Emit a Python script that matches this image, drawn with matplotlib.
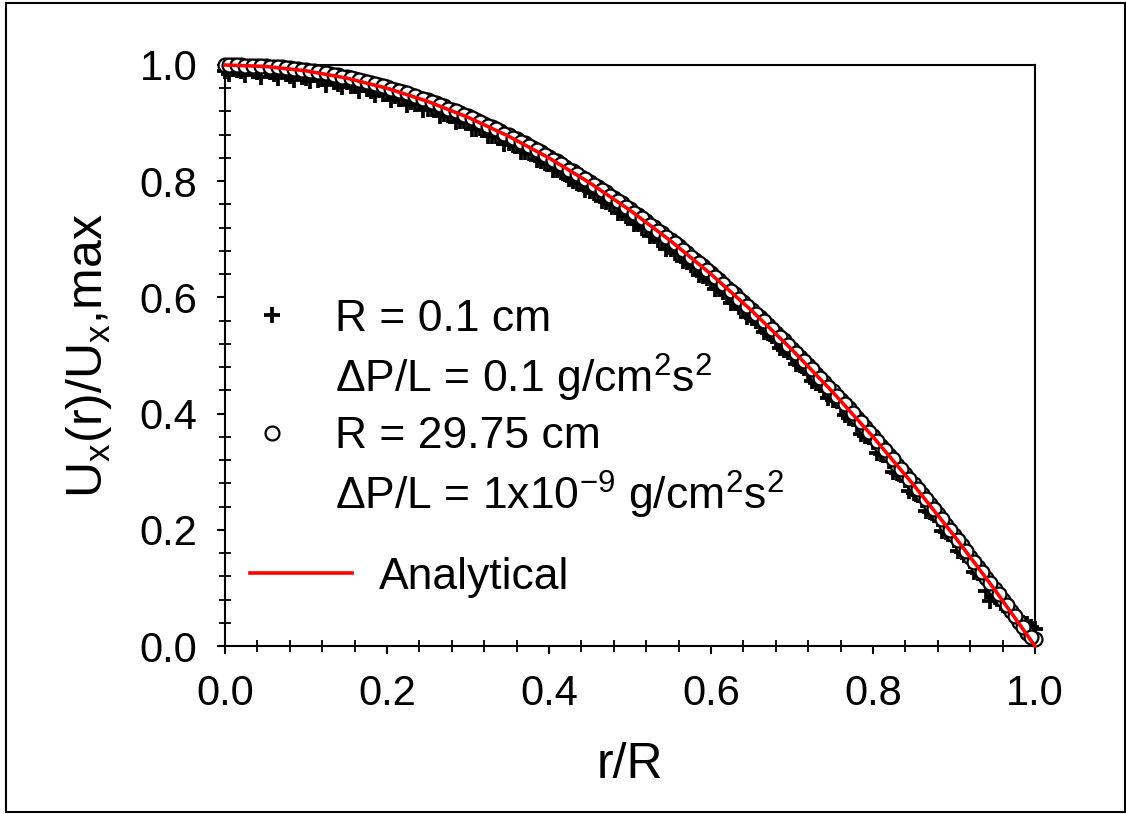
import matplotlib
matplotlib.use("Agg")
import matplotlib.pyplot as plt
from matplotlib.lines import Line2D
from matplotlib.patches import Rectangle
from matplotlib.ticker import MultipleLocator, FormatStrFormatter

plt.rcParams['font.family'] = ['Liberation Sans', 'DejaVu Sans']
plt.rcParams['mathtext.fontset'] = 'custom'
plt.rcParams['mathtext.rm'] = 'Liberation Sans'
plt.rcParams['mathtext.it'] = 'Liberation Sans'
plt.rcParams['mathtext.default'] = 'regular'

# ---- data ----
r_data = [0.00, 0.01, 0.02, 0.03, 0.04, 0.05, 0.06, 0.07, 0.08, 0.09,
          0.10, 0.11, 0.12, 0.13, 0.14, 0.15, 0.16, 0.17, 0.18, 0.19,
          0.20, 0.21, 0.22, 0.23, 0.24, 0.25, 0.26, 0.27, 0.28, 0.29,
          0.30, 0.31, 0.32, 0.33, 0.34, 0.35, 0.36, 0.37, 0.38, 0.39,
          0.40, 0.41, 0.42, 0.43, 0.44, 0.45, 0.46, 0.47, 0.48, 0.49,
          0.50, 0.51, 0.52, 0.53, 0.54, 0.55, 0.56, 0.57, 0.58, 0.59,
          0.60, 0.61, 0.62, 0.63, 0.64, 0.65, 0.66, 0.67, 0.68, 0.69,
          0.70, 0.71, 0.72, 0.73, 0.74, 0.75, 0.76, 0.77, 0.78, 0.79,
          0.80, 0.81, 0.82, 0.83, 0.84, 0.85, 0.86, 0.87, 0.88, 0.89,
          0.90, 0.91, 0.92, 0.93, 0.94, 0.95, 0.96, 0.97, 0.98, 0.99,
          1.00]

r_data_half = [0.005, 0.015, 0.025, 0.035, 0.045, 0.055, 0.065, 0.075, 0.085, 0.095,
               0.105, 0.115, 0.125, 0.135, 0.145, 0.155, 0.165, 0.175, 0.185, 0.195,
               0.205, 0.215, 0.225, 0.235, 0.245, 0.255, 0.265, 0.275, 0.285, 0.295,
               0.305, 0.315, 0.325, 0.335, 0.345, 0.355, 0.365, 0.375, 0.385, 0.395,
               0.405, 0.415, 0.425, 0.435, 0.445, 0.455, 0.465, 0.475, 0.485, 0.495,
               0.505, 0.515, 0.525, 0.535, 0.545, 0.555, 0.565, 0.575, 0.585, 0.595,
               0.605, 0.615, 0.625, 0.635, 0.645, 0.655, 0.665, 0.675, 0.685, 0.695,
               0.705, 0.715, 0.725, 0.735, 0.745, 0.755, 0.765, 0.775, 0.785, 0.795,
               0.805, 0.815, 0.825, 0.835, 0.845, 0.855, 0.865, 0.875, 0.885, 0.895,
               0.905, 0.915, 0.925, 0.935, 0.945, 0.955, 0.965, 0.975, 0.985, 0.995]

# R = 0.1 cm (plus markers)
u_small_R = [0.990, 0.993, 0.990, 0.994, 0.988, 0.992, 0.985, 0.990, 0.981, 0.986,
             0.978, 0.983, 0.976, 0.978, 0.968, 0.970, 0.963, 0.965, 0.956, 0.957,
             0.950, 0.947, 0.944, 0.936, 0.934, 0.925, 0.924, 0.915, 0.913, 0.904,
             0.901, 0.890, 0.888, 0.878, 0.874, 0.866, 0.860, 0.850, 0.846, 0.835,
             0.830, 0.819, 0.813, 0.801, 0.797, 0.783, 0.778, 0.765, 0.759, 0.746,
             0.740, 0.726, 0.719, 0.705, 0.698, 0.683, 0.676, 0.661, 0.653, 0.637,
             0.630, 0.614, 0.605, 0.590, 0.580, 0.564, 0.555, 0.538, 0.527, 0.510,
             0.500, 0.483, 0.471, 0.453, 0.443, 0.424, 0.413, 0.393, 0.382, 0.362,
             0.351, 0.330, 0.319, 0.298, 0.286, 0.264, 0.252, 0.231, 0.218, 0.196,
             0.183, 0.161, 0.147, 0.126, 0.095, 0.085, 0.070, 0.058, 0.045, 0.038,
             0.030]
u_small_R_half = [0.985, 0.992, 0.983, 0.990, 0.980, 0.988, 0.978, 0.984, 0.975, 0.980,
                  0.972, 0.975, 0.966, 0.971, 0.962, 0.964, 0.955, 0.958, 0.948, 0.950,
                  0.940, 0.942, 0.932, 0.933, 0.922, 0.925, 0.912, 0.914, 0.902, 0.903,
                  0.890, 0.891, 0.877, 0.878, 0.864, 0.863, 0.851, 0.848, 0.836, 0.832,
                  0.820, 0.815, 0.803, 0.797, 0.785, 0.779, 0.766, 0.760, 0.746, 0.740,
                  0.726, 0.720, 0.705, 0.699, 0.684, 0.677, 0.662, 0.655, 0.639, 0.633,
                  0.615, 0.609, 0.591, 0.584, 0.566, 0.559, 0.540, 0.533, 0.513, 0.506,
                  0.485, 0.479, 0.456, 0.450, 0.427, 0.421, 0.397, 0.391, 0.365, 0.360,
                  0.333, 0.328, 0.300, 0.294, 0.267, 0.260, 0.233, 0.226, 0.198, 0.192,
                  0.163, 0.158, 0.128, 0.122, 0.078, 0.082, 0.064, 0.052, 0.040, 0.032]

# R = 29.75 cm (circle markers)
u_large_R = [1.000, 1.000, 1.000, 0.999, 0.999, 0.998, 0.997, 0.996, 0.995, 0.993,
             0.991, 0.989, 0.987, 0.984, 0.982, 0.979, 0.976, 0.972, 0.969, 0.965,
             0.962, 0.957, 0.953, 0.949, 0.944, 0.939, 0.934, 0.929, 0.923, 0.918,
             0.912, 0.906, 0.899, 0.893, 0.886, 0.879, 0.872, 0.865, 0.857, 0.850,
             0.842, 0.834, 0.825, 0.817, 0.808, 0.799, 0.790, 0.781, 0.771, 0.762,
             0.752, 0.742, 0.731, 0.721, 0.710, 0.699, 0.688, 0.677, 0.665, 0.654,
             0.642, 0.630, 0.617, 0.605, 0.592, 0.579, 0.566, 0.553, 0.539, 0.526,
             0.512, 0.498, 0.483, 0.469, 0.454, 0.439, 0.424, 0.409, 0.393, 0.377,
             0.361, 0.345, 0.329, 0.312, 0.296, 0.279, 0.261, 0.244, 0.227, 0.209,
             0.191, 0.173, 0.154, 0.136, 0.117, 0.098, 0.079, 0.060, 0.041, 0.022,
             0.012]
u_large_R_half = [1.000, 1.000, 0.999, 0.999, 0.998, 0.997, 0.996, 0.995, 0.993, 0.992,
                  0.990, 0.988, 0.986, 0.983, 0.980, 0.977, 0.974, 0.971, 0.967, 0.963,
                  0.959, 0.955, 0.951, 0.946, 0.941, 0.936, 0.931, 0.925, 0.920, 0.914,
                  0.908, 0.902, 0.895, 0.889, 0.882, 0.875, 0.868, 0.860, 0.853, 0.845,
                  0.837, 0.829, 0.820, 0.812, 0.803, 0.794, 0.785, 0.775, 0.766, 0.756,
                  0.746, 0.736, 0.725, 0.715, 0.704, 0.693, 0.682, 0.670, 0.659, 0.647,
                  0.635, 0.623, 0.611, 0.598, 0.585, 0.572, 0.559, 0.546, 0.532, 0.518,
                  0.504, 0.490, 0.476, 0.461, 0.446, 0.431, 0.416, 0.401, 0.385, 0.369,
                  0.353, 0.337, 0.321, 0.304, 0.287, 0.270, 0.253, 0.235, 0.218, 0.200,
                  0.182, 0.164, 0.145, 0.127, 0.108, 0.089, 0.070, 0.051, 0.032, 0.016]

r_analytical = [0.00, 0.05, 0.10, 0.15, 0.20, 0.25, 0.30, 0.35, 0.40, 0.45, 0.50,
                0.55, 0.60, 0.65, 0.70, 0.75, 0.80, 0.85, 0.90, 0.95, 1.00]
u_analytical = [1.0000, 0.9975, 0.9900, 0.9775, 0.9600, 0.9375, 0.9100, 0.8775,
                0.8400, 0.7975, 0.7500, 0.6975, 0.6400, 0.5775, 0.5100, 0.4375,
                0.3600, 0.2775, 0.1900, 0.0975, 0.0000]

label_small = ["R = 0.1 cm", r"$\Delta$P/L = 0.1 g/cm$^{2}$s$^{2}$"]
label_large = ["R = 29.75 cm", r"$\Delta$P/L = 1x10$^{-9}$ g/cm$^{2}$s$^{2}$"]
label_analytical = "Analytical"

W, H = 1126, 814
fig = plt.figure(figsize=(W / 100, H / 100), dpi=100)
ax = fig.add_axes([225 / W, 1 - 646 / H, 810 / W, 581 / H])

plus_style = dict(linestyle='none', marker='+', markersize=11,
                  markeredgewidth=2.7, color='black')
circ_style = dict(linestyle='none', marker='o', markersize=10,
                  markeredgewidth=1.6, markerfacecolor='white',
                  markeredgecolor='black')

ax.plot(r_data, u_small_R, clip_on=False, zorder=3, **plus_style)
ax.plot(r_data_half, u_small_R_half, clip_on=False, zorder=3, **plus_style)
ax.plot(r_data, u_large_R, clip_on=False, zorder=4, **circ_style)
ax.plot(r_data_half, u_large_R_half, clip_on=False, zorder=4, **circ_style)
ax.plot(r_analytical, u_analytical, color='red', linewidth=2.6, zorder=5,
        clip_on=False)

ax.set_xlim(0, 1)
ax.set_ylim(0, 1)
ax.xaxis.set_major_locator(MultipleLocator(0.2))
ax.yaxis.set_major_locator(MultipleLocator(0.2))
ax.xaxis.set_minor_locator(MultipleLocator(0.04))
ax.yaxis.set_minor_locator(MultipleLocator(0.04))
ax.xaxis.set_major_formatter(FormatStrFormatter('%.1f'))
ax.yaxis.set_major_formatter(FormatStrFormatter('%.1f'))
ax.tick_params(which='major', direction='out', length=6, width=1.5,
               labelsize=30, pad=14, top=False, right=False)
ax.tick_params(which='minor', direction='inout', length=8, width=1.3,
               top=False, right=False)
for s in ax.spines.values():
    s.set_linewidth(1.5)

ax.set_xlabel("r/R", fontsize=36, labelpad=20)
ax.set_ylabel(r"U$_{\mathrm{x}}$(r)/U$_{\mathrm{x}}$,max", fontsize=36, labelpad=18)

fs = 32
h_small = Line2D([], [], **plus_style)
h_large = Line2D([], [], **circ_style)
h_blank = Line2D([], [], linestyle='none')
leg1 = ax.legend([h_small, h_blank, h_large, h_blank],
                 [label_small[0], label_small[1], label_large[0], label_large[1]],
                 loc='upper left', bbox_to_anchor=(25 / 810, (646 - 299) / 581),
                 frameon=False, fontsize=fs, borderpad=0, borderaxespad=0,
                 handlelength=1.0, handletextpad=0.92, labelspacing=0.27)
ax.add_artist(leg1)
h_line = Line2D([], [], color='red', linewidth=2.6)
ax.legend([h_line], [label_analytical], loc='center left',
          bbox_to_anchor=(25 / 810, (646 - 577) / 581), frameon=False,
          fontsize=fs, borderpad=0, borderaxespad=0, handlelength=2.3,
          handletextpad=0.59)

fig.patches.append(Rectangle((6 / W, 1 - 812 / H), 1119 / W, 809 / H,
                             transform=fig.transFigure, fill=False,
                             edgecolor='black', linewidth=1.5))

fig.savefig("out.png", dpi=100)
